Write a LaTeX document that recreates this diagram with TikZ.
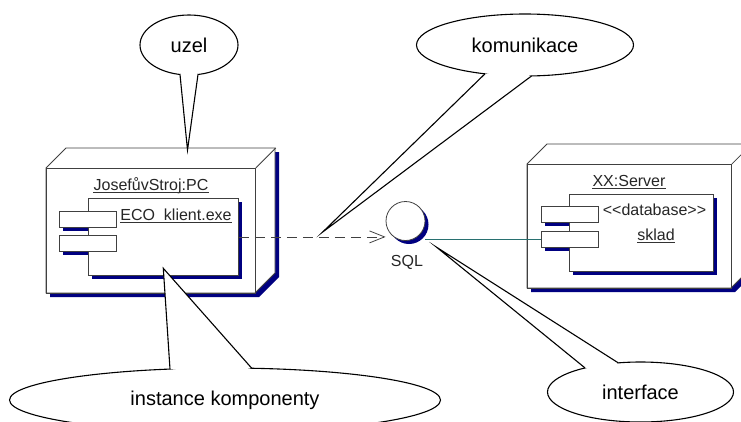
\documentclass[tikz,border=0pt]{standalone}
\usepackage{fontspec}
\setmainfont{Liberation Sans}
\usetikzlibrary{shapes.geometric,arrows.meta,shadows}

\definecolor{shadowblue}{RGB}{0,0,128}
\definecolor{edgegray}{RGB}{64,64,64}
\definecolor{linkteal}{RGB}{40,112,112}

\begin{document}
\begin{tikzpicture}[x=1pt,y=-1pt,
    device/.style={draw=edgegray,fill=white,line width=0.8pt,inner sep=0pt},
    comp/.style={draw=edgegray,fill=white,line width=0.8pt,inner sep=0pt,
      drop shadow={shadow xshift=4pt,shadow yshift=-4pt,fill=shadowblue,opacity=1}},
    port/.style={draw=edgegray,fill=white,line width=0.8pt,inner sep=0pt,
      minimum width=57pt,minimum height=16pt},
    small/.style={font=\fontsize{16}{19}\selectfont,text=black!85,inner sep=0pt},
    uline/.style={small,append after command={([yshift=-1.8pt]\tikzlastnode.base west)
      edge[draw=black!80,line width=0.8pt] ([yshift=-1.8pt]\tikzlastnode.base east)}},
    note/.style={ellipse,draw,fill=white,line width=1.1pt,inner sep=0pt,
      font=\fontsize{20}{24}\selectfont},
    tail/.style={line width=1.1pt,miter limit=30}]

  \useasboundingbox (0,0) rectangle (741,421);

  % the two devices
  \foreach \n/\l/\t/\r/\b in {pc/46/168/255/293, srv/527/164/731/288} {
    \fill[shadowblue,shift={(4,4)}] (\l,\b) -- (\l,\t) -- (\l+20,\t-20) -- (\r+20,\t-20) -- (\r+20,\b-20) -- (\r,\b) -- cycle;
    \filldraw[device] (\l,\b) -- (\l,\t) -- (\l+20,\t-20) -- (\r+20,\t-20) -- (\r+20,\b-20) -- (\r,\b) -- cycle;
    \node[device,fill=none,anchor=north west,minimum width=\r-\l,minimum height=\b-\t] (\n) at (\l,\t) {};
    \draw[device] (\n.north east) -- ++(20,-20);
  }

  % components
  \foreach \x/\y in {59/211, 59/235, 541/206, 541/231}
    \fill[shadowblue] (\x+4,\y+4) rectangle ++(57,16);
  \node[comp,anchor=north west,minimum width=150pt,minimum height=77pt] (eco) at (88,198) {};
  \node[comp,anchor=north west,minimum width=144pt,minimum height=77pt] (store) at (569,194) {};
  \node[port,anchor=north west] (pc1) at (59,211) {};
  \node[port,anchor=north west] (pc2) at (59,235) {};
  \node[port,anchor=north west] (db1) at (541,206) {};
  \node[port,anchor=north west] (db2) at (541,231) {};

  \node[uline,anchor=base] (pcname) at (151,190.5) {JosefůvStroj:PC};
  \node[uline,anchor=base] (econame) at (176,220.5) {ECO~~klient.exe};
  \node[uline,anchor=base] (srvname) at (629,186.5) {XX:Server};
  \node[small,anchor=base] (stereo) at (654.5,215) {<\kern0pt<database>\kern0pt>};
  \node[uline,anchor=base] (dbname) at (656,240.5) {sklad};

  % interface
  \node[circle,draw=edgegray,fill=white,line width=0.8pt,minimum size=39pt,inner sep=0pt,
    drop shadow={shadow xshift=3.5pt,shadow yshift=-3.5pt,fill=shadowblue,opacity=1}] (sql) at (405.5,221) {};
  \node[small,anchor=base] (sqlname) at (407,266) {SQL};

  \draw[edgegray,line width=0.8pt,dash pattern=on 10pt off 6pt,
    -{Straight Barb[length=15pt,width=12pt]}] (eco.east) -- (eco.east -| sql.west);
  \draw[linkteal,line width=1.1pt] (sql.east |- db2.west) -- (db2.west);

  % callouts
  \node[note,minimum width=98pt,minimum height=60pt] (uzel) at (189,45) {uzel};
  \node[note,minimum width=217pt,minimum height=62pt] (komunikace) at (525,45) {komunikace};
  \node[note,minimum width=431pt,minimum height=64pt] (instance) at (225,400) {instance komponenty};
  \node[note,minimum width=186pt,minimum height=60pt] (iface) at (640.5,392) {interface};

  \foreach \n/\a/\b/\t/\c in {uzel/{180,74.5}/{198,74.5}/{187.5,150}/{189,70},
      komunikace/{485,73.8}/{531.5,76}/{322.7,232}/{510,70},
      instance/{170,369.1}/{251.7,368.2}/{163.3,268.3}/{213,374},
      iface/{585,367.9}/{618.3,362.9}/{436.7,247.3}/{607,370}} {
    \fill[white] (\a) -- (\t) -- (\b) -- (\c) -- cycle;
    \draw[tail] (\a) -- (\t) -- (\b);
  }

\end{tikzpicture}
\end{document}
